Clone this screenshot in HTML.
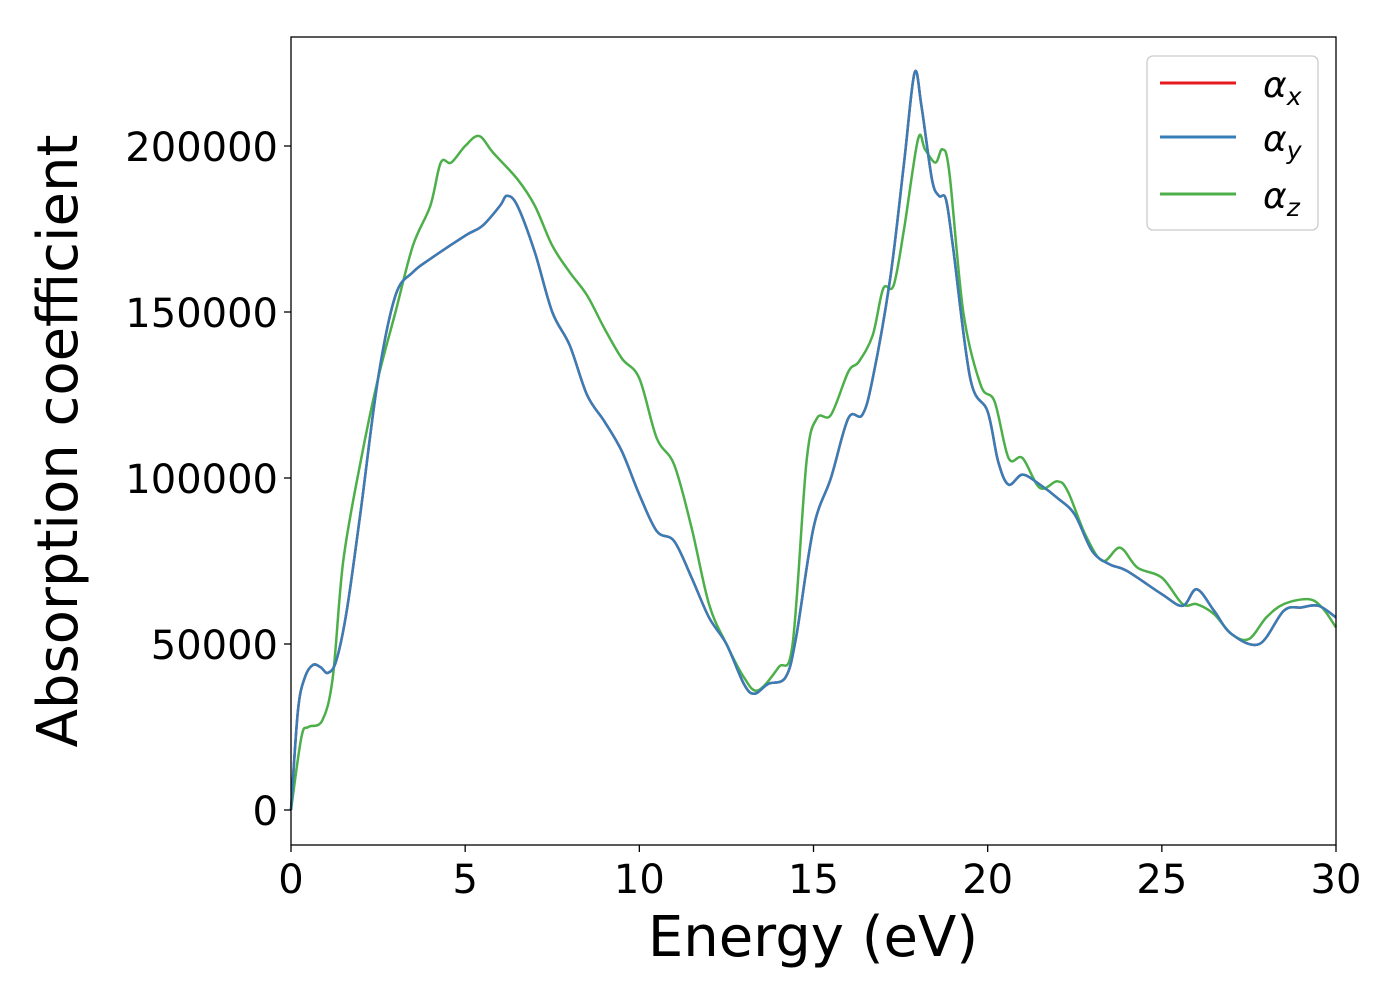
<!DOCTYPE html>
<html><head><meta charset="utf-8"><style>
body{margin:0;background:#fff}
svg{display:block;font-family:"DejaVu Sans","Liberation Sans",sans-serif}
</style></head><body>
<svg width="1400" height="1000" viewBox="0 0 1400 1000">
<rect x="0" y="0" width="1400" height="1000" fill="#fff"/>
<g id="series"></g>
<rect x="291" y="37" width="1045" height="808" fill="none" stroke="#000" stroke-width="1.3"/>
<g id="axes" font-size="40" fill="#000"></g>
<text x="813" y="956" font-size="56" text-anchor="middle">Energy (eV)</text>
<text transform="translate(77,441) rotate(-90)" font-size="56" text-anchor="middle">Absorption coefficient</text>
<g>
<rect x="1147" y="56" width="171" height="174" rx="6" fill="#fff" fill-opacity="0.8" stroke="#ccc" stroke-width="1.3"/>
<line x1="1160" y1="83" x2="1236" y2="83" stroke="#e41a1c" stroke-width="3"/>
<text x="1263" y="97" font-size="36" font-style="italic">α<tspan font-size="25" dy="8">x</tspan></text>
<line x1="1160" y1="137" x2="1236" y2="137" stroke="#377eb8" stroke-width="3"/>
<text x="1263" y="151" font-size="36" font-style="italic">α<tspan font-size="25" dy="8">y</tspan></text>
<line x1="1160" y1="194" x2="1236" y2="194" stroke="#4daf4a" stroke-width="3"/>
<text x="1263" y="208" font-size="36" font-style="italic">α<tspan font-size="25" dy="8">z</tspan></text>
</g>
</svg>
<script>
const xTicks=[0,5,10,15,20,25,30];
const yTicks=[0,50000,100000,150000,200000];
const energyXY=[0,0.2,0.4,0.63,0.85,1.06,1.3,1.6,2,2.5,3,3.5,4,5,5.5,6,6.2,6.5,7,7.5,8,8.5,9,9.5,10,10.5,11,11.5,12,12.5,13,13.3,13.7,14.2,14.5,15,15.5,16,16.4,16.7,17.2,17.6,17.9,18.1,18.4,18.6,18.8,19,19.5,20,20.3,20.6,21,21.5,22,22.5,23,23.5,24,25,25.6,26,26.5,27,27.8,28.5,29,29.5,30];
const alphaXY=[0,30000,40000,43700,43000,41300,45000,60000,90000,130000,155000,162000,166000,173000,176000,182000,185000,182000,168000,150000,140000,125000,117000,108000,95000,84000,81000,70000,58000,50000,38000,35000,38000,40000,52000,85000,100000,118000,119000,130000,160000,195000,222000,212000,190000,185000,184000,170000,130000,120000,105000,98000,101000,98000,94000,89000,78000,74000,72000,65000,61500,66500,60000,53000,50000,60000,61000,61500,58000];
const energyZ=[0,0.3,0.5,0.9,1.2,1.5,2,2.5,3,3.5,4,4.3,4.6,5,5.4,5.8,6.5,7,7.5,8,8.5,9,9.5,10,10.5,11,11.5,12,12.5,13,13.4,14,14.4,14.8,15.1,15.5,16,16.3,16.7,17,17.3,17.6,18,18.2,18.5,18.7,18.9,19.3,19.8,20.2,20.6,21,21.5,22,22.3,22.8,23.3,23.8,24.3,25,25.6,26,26.5,27,27.5,28,28.5,29.2,29.6,30];
const alphaZ=[0,22000,25000,27000,40000,75000,105000,130000,150000,170000,182000,195000,195000,200000,203000,198000,190000,182000,170000,162000,155000,145000,136000,130000,112000,104000,85000,62000,50000,40000,36000,43000,50000,105000,118000,119000,132000,135000,143000,157000,158000,175000,202000,199000,195000,199000,192000,150000,128000,123000,106000,106000,97000,99000,96000,83000,75000,79000,73000,70000,62000,62000,59000,53000,51500,58000,62000,63500,61000,55000];
const X0=291,X1=1336,Y0=810,Y200k=146;
const sx=v=>X0+(v/30)*(X1-X0);
const sy=v=>Y0-(v/200000)*(Y0-Y200k);
const NS="http://www.w3.org/2000/svg";
function path(xs,ys){
  const p=xs.map((x,i)=>[sx(x),sy(ys[i])]);
  let d="M"+p[0][0]+","+p[0][1];
  for(let i=0;i<p.length-1;i++){
    const a=p[Math.max(0,i-1)],b=p[i],c=p[i+1],e=p[Math.min(p.length-1,i+2)];
    d+=" C"+(b[0]+(c[0]-a[0])/6)+","+(b[1]+(c[1]-a[1])/6)+" "+(c[0]-(e[0]-b[0])/6)+","+(c[1]-(e[1]-b[1])/6)+" "+c[0]+","+c[1];
  }
  return d;
}
const g=document.getElementById("series");
[["series-alpha-x",energyXY,alphaXY,"#e41a1c"],["series-alpha-z",energyZ,alphaZ,"#4daf4a"],["series-alpha-y",energyXY,alphaXY,"#377eb8"]].forEach(s=>{
  const el=document.createElementNS(NS,"path");
  el.setAttribute("d",path(s[1],s[2]));
  el.setAttribute("fill","none");
  el.setAttribute("stroke",s[3]);
  el.setAttribute("stroke-width","2.5");
  
  
  g.appendChild(el);
});
const ax=document.getElementById("axes");
xTicks.forEach(t=>{
  const l=document.createElementNS(NS,"line");
  l.setAttribute("x1",sx(t));l.setAttribute("x2",sx(t));l.setAttribute("y1",845);l.setAttribute("y2",852);l.setAttribute("stroke","#000");l.setAttribute("stroke-width","1.3");
  
  
  ax.appendChild(l);
  const tx=document.createElementNS(NS,"text");
  tx.setAttribute("x",sx(t));tx.setAttribute("y",893);tx.setAttribute("text-anchor","middle");tx.textContent=t;
  
  
  ax.appendChild(tx);
});
yTicks.forEach(t=>{
  const l=document.createElementNS(NS,"line");
  l.setAttribute("x1",284);l.setAttribute("x2",291);l.setAttribute("y1",sy(t));l.setAttribute("y2",sy(t));l.setAttribute("stroke","#000");l.setAttribute("stroke-width","1.3");
  
  
  ax.appendChild(l);
  const tx=document.createElementNS(NS,"text");
  tx.setAttribute("x",278);tx.setAttribute("y",sy(t)+15);tx.setAttribute("text-anchor","end");tx.textContent=t;
  
  
  ax.appendChild(tx);
});
</script>
</body></html>
